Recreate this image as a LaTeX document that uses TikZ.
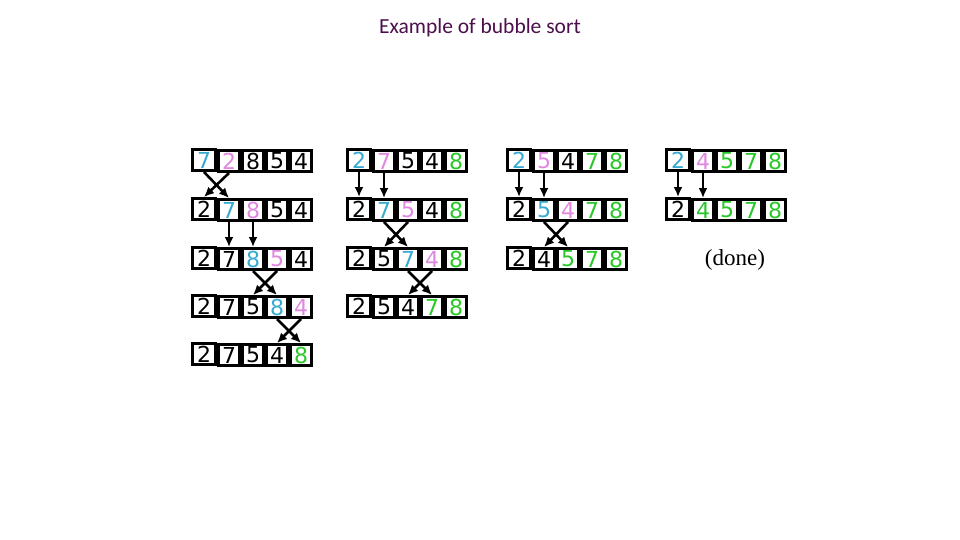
\documentclass[tikz,border=0pt]{standalone}
\usepackage{fontspec}
\setmainfont{DejaVu Sans}
\newfontfamily\titlefont{Carlito}
\newfontfamily\donefont{Liberation Serif}
\usetikzlibrary{arrows.meta}
\definecolor{cb}{RGB}{55,170,210}
\definecolor{cp}{RGB}{225,135,225}
\definecolor{cg}{RGB}{40,200,40}
\definecolor{k}{RGB}{0,0,0}
\definecolor{ttl}{RGB}{75,15,75}
\tikzset{
  cell/.style={draw, line width=3.2pt, minimum width=20.8pt, minimum height=20.8pt,
    inner sep=0pt, fill=white, font=\fontsize{22}{22}\selectfont},
  firstcell/.style={cell, minimum width=22.8pt},
  arr/.style={-{Latex[length=10pt,width=9pt]}, line width=2.6pt},
}
\newcommand\brow[4]{%
  \foreach \d/\c [count=\i] in {#4}{%
    \ifnum\i=1
      \node[firstcell,text=\c] (#1b\i) at ({#2+13},{#3+11}) {\d};
    \else
      \node[cell,text=\c] (#1b\i) at ({#2+26+12+24*(\i-2)},{#3+12}) {\d};
    \fi}}
\begin{document}
\begin{tikzpicture}[x=1pt,y=-1pt]
\useasboundingbox (0,0) rectangle (960,540);
\node[text=ttl, font=\titlefont\fontsize{21.5}{21.5}\selectfont] (title) at (480,28) {Example of bubble sort};
% column 1
\brow{c1r1}{191}{149}{7/cb,2/cp,8/k,5/k,4/k}
\brow{c1r2}{191}{198}{2/k,7/cb,8/cp,5/k,4/k}
\brow{c1r3}{191}{247}{2/k,7/k,8/cb,5/cp,4/k}
\brow{c1r4}{191}{295}{2/k,7/k,5/k,8/cb,4/cp}
\brow{c1r5}{191}{343}{2/k,7/k,5/k,4/k,8/cg}
% column 2
\brow{c2r1}{346}{149}{2/cb,7/cp,5/k,4/k,8/cg}
\brow{c2r2}{346}{198}{2/k,7/cb,5/cp,4/k,8/cg}
\brow{c2r3}{346}{247}{2/k,5/k,7/cb,4/cp,8/cg}
\brow{c2r4}{346}{295}{2/k,5/k,4/k,7/cg,8/cg}
% column 3
\brow{c3r1}{506}{149}{2/cb,5/cp,4/k,7/cg,8/cg}
\brow{c3r2}{506}{198}{2/k,5/cb,4/cp,7/cg,8/cg}
\brow{c3r3}{506}{247}{2/k,4/k,5/cg,7/cg,8/cg}
% column 4
\brow{c4r1}{665}{149}{2/cb,4/cp,5/cg,7/cg,8/cg}
\brow{c4r2}{665}{198}{2/k,4/cg,5/cg,7/cg,8/cg}
\node[font=\donefont\fontsize{23}{23}\selectfont] (done) at (735,260) {(done)};
% arrows column 1
\draw[arr] (c1r1b1.south) -- (c1r2b2.north);
\draw[arr] (c1r1b2.south) -- (c1r2b1.north);
\draw[arr] (c1r2b2.south) -- (c1r3b2.north);
\draw[arr] (c1r2b3.south) -- (c1r3b3.north);
\draw[arr] (c1r3b3.south) -- (c1r4b4.north);
\draw[arr] (c1r3b4.south) -- (c1r4b3.north);
\draw[arr] (c1r4b4.south) -- (c1r5b5.north);
\draw[arr] (c1r4b5.south) -- (c1r5b4.north);
% arrows column 2
\draw[arr] (c2r1b1.south) -- (c2r2b1.north);
\draw[arr] (c2r1b2.south) -- (c2r2b2.north);
\draw[arr] (c2r2b2.south) -- (c2r3b3.north);
\draw[arr] (c2r2b3.south) -- (c2r3b2.north);
\draw[arr] (c2r3b3.south) -- (c2r4b4.north);
\draw[arr] (c2r3b4.south) -- (c2r4b3.north);
% arrows column 3
\draw[arr] (c3r1b1.south) -- (c3r2b1.north);
\draw[arr] (c3r1b2.south) -- (c3r2b2.north);
\draw[arr] (c3r2b2.south) -- (c3r3b3.north);
\draw[arr] (c3r2b3.south) -- (c3r3b2.north);
% arrows column 4
\draw[arr] (c4r1b1.south) -- (c4r2b1.north);
\draw[arr] (c4r1b2.south) -- (c4r2b2.north);
\end{tikzpicture}
\end{document}
